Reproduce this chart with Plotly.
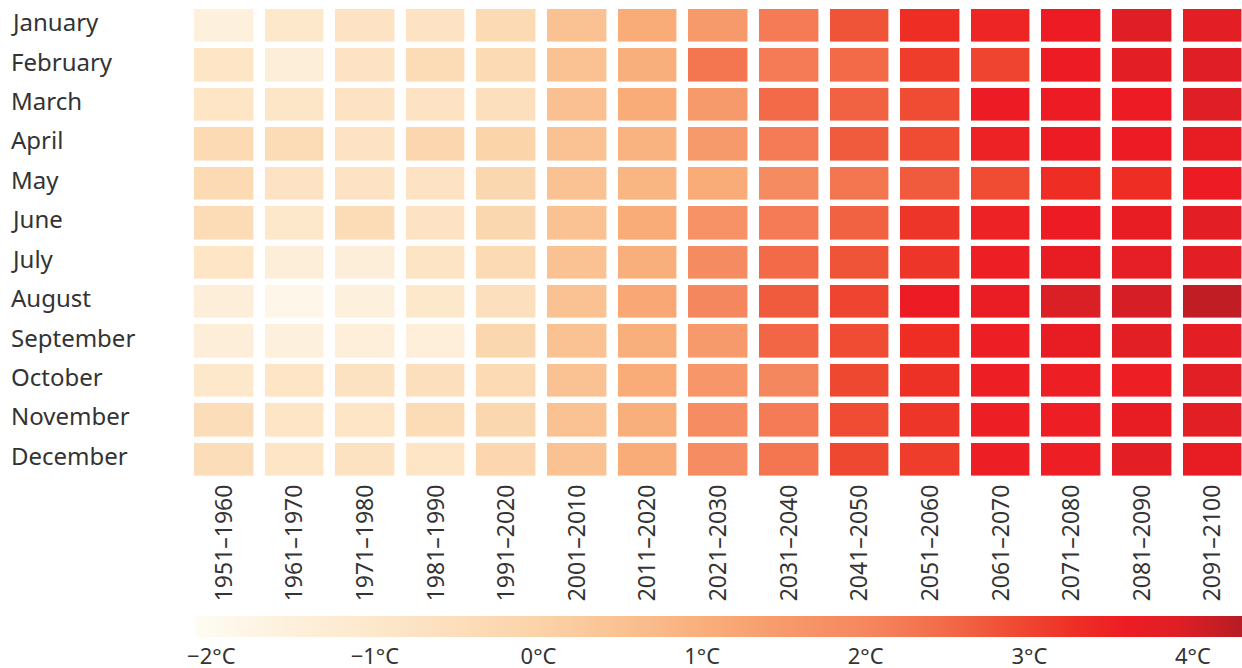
import plotly.graph_objects as go

months = ["January", "February", "March", "April", "May", "June", "July",
          "August", "September", "October", "November", "December"]
decades = ["1951–1960", "1961–1970", "1971–1980", "1981–1990", "1991–2020",
           "2001–2010", "2011–2020", "2021–2030", "2031–2040", "2041–2050",
           "2051–2060", "2061–2070", "2071–2080", "2081–2090", "2091–2100"]

jan = [-1.5, -1.0, -0.75, -0.75, -0.3, 0.5, 1.1, 1.5, 2.2, 2.8, 3.3, 3.45, 3.6, 3.9, 3.8]
feb = [-0.85, -1.4, -0.75, -0.4, -0.3, 0.5, 1.0, 2.3, 2.2, 2.5, 3.1, 3.0, 3.6, 3.8, 3.9]
mar = [-0.85, -0.9, -0.75, -0.75, -0.6, 0.55, 1.1, 1.5, 2.5, 2.6, 2.9, 3.6, 3.6, 3.6, 3.9]
apr = [-0.3, -0.4, -0.75, -0.15, -0.05, 0.5, 0.9, 1.5, 2.2, 2.7, 2.9, 3.5, 3.6, 3.6, 3.7]
may = [-0.3, -0.75, -0.75, -0.75, -0.2, 0.5, 0.85, 1.1, 1.9, 2.3, 2.7, 2.9, 3.3, 3.3, 3.6]
jun = [-0.4, -1.0, -0.4, -0.75, -0.2, 0.5, 1.1, 1.7, 2.2, 2.6, 3.2, 3.5, 3.6, 3.7, 3.8]
jul = [-0.85, -1.4, -1.4, -0.8, -0.3, 0.5, 1.0, 1.9, 2.5, 2.8, 3.2, 3.55, 3.7, 3.75, 3.8]
aug = [-1.4, -1.8, -1.5, -1.0, -0.55, 0.5, 1.2, 2.0, 2.7, 3.0, 3.6, 3.65, 3.95, 4.0, 4.2]
sep = [-1.4, -1.5, -1.45, -1.45, -0.2, 0.5, 1.0, 1.5, 2.55, 2.9, 3.3, 3.55, 3.7, 3.85, 3.8]
oct_ = [-1.0, -0.85, -0.7, -0.6, -0.3, 0.5, 1.1, 1.6, 2.0, 2.95, 3.25, 3.55, 3.55, 3.55, 3.85]
nov = [-0.45, -0.85, -0.85, -0.4, -0.2, 0.5, 1.0, 1.85, 2.2, 2.9, 3.2, 3.55, 3.55, 3.7, 3.85]
dec = [-0.45, -0.85, -0.7, -0.85, -0.15, 0.5, 1.1, 1.85, 2.3, 2.95, 3.1, 3.55, 3.55, 3.8, 3.7]

values = [jan, feb, mar, apr, may, jun, jul, aug, sep, oct_, nov, dec]

zmin, zmax = -2.1, 4.3
scale_points = [(-2.1, "#fefcf3"), (-1.5, "#fdf0dc"), (-1.0, "#fde8cb"),
                (-0.5, "#fcdebb"), (0.0, "#fbd3a8"), (0.5, "#fac293"),
                (1.0, "#f9af7b"), (1.5, "#f79a6b"), (2.0, "#f5875e"),
                (2.5, "#f26a48"), (2.9, "#ef4c33"), (3.3, "#ee2d25"),
                (3.6, "#ed1c24"), (3.9, "#df1f25"), (4.3, "#b71c24")]
colorscale = [[(v - zmin) / (zmax - zmin), c] for v, c in scale_points]

tick_vals = [-2, -1, 0, 1, 2, 3, 4]
tick_text = ["−2°C", "−1°C", "0°C", "1°C", "2°C", "3°C", "4°C"]

W, H = 1242, 668
ml, mr, mt, mb = 189, 0, 6, 189
pw = W - ml - mr
ph = H - mt - mb
pitch = (1248.3 - 189) / 15

fig = go.Figure(go.Heatmap(
    z=values, x=decades, y=months,
    colorscale=colorscale, zmin=zmin, zmax=zmax,
    xgap=11.6, ygap=6.4,
    colorbar=dict(
        orientation="h",
        x=(195 - ml) / pw, xanchor="left", xpad=0,
        y=-(616 - (mt + ph)) / ph, yanchor="top", ypad=0,
        len=(1242 - 195) / pw, lenmode="fraction",
        thickness=21, outlinewidth=0, ticks="",
        tickvals=tick_vals, ticktext=tick_text,
        tickfont=dict(family="Noto Sans", size=22, color="#333333"),
    ),
))

fig.update_xaxes(range=[-0.5, -0.5 + pw / pitch], automargin=False,
                 tickangle=-90, showgrid=False, zeroline=False, showline=False,
                 ticks="", tickfont=dict(family="Noto Sans", size=23, color="#333333"))
fig.update_yaxes(range=[11.5, -0.5], automargin=False, showticklabels=False,
                 showgrid=False, zeroline=False, showline=False, ticks="")

for m in months:
    fig.add_annotation(text=m, xref="paper", yref="y", x=(9 - ml) / pw, y=m,
                       xanchor="left", yanchor="middle", showarrow=False, yshift=4,
                       font=dict(family="Noto Sans", size=24, color="#333333"))

fig.update_layout(width=W, height=H,
                  margin=dict(l=ml, r=mr, t=mt, b=mb, autoexpand=False),
                  plot_bgcolor="white", paper_bgcolor="white",
                  font=dict(family="Noto Sans", color="#333333"))

fig.write_html("out.html", config={"displayModeBar": False},
               post_script="document.body.style.margin='0';document.body.style.overflow='hidden';")
